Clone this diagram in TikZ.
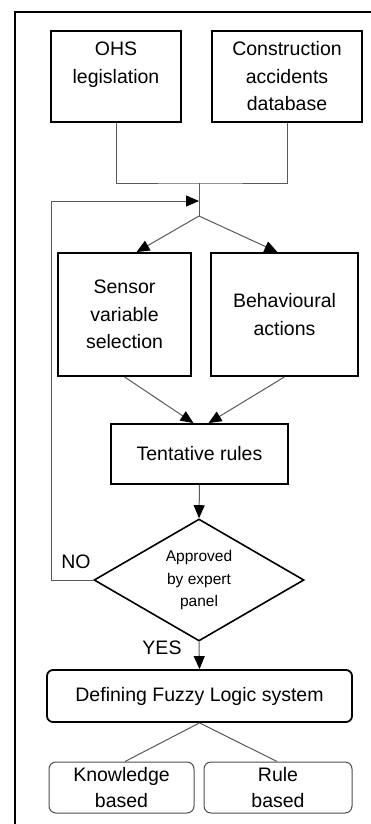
\documentclass[tikz,border=0pt]{standalone}
\usepackage{fontspec}
\setmainfont{Liberation Sans}
\usetikzlibrary{arrows.meta,shapes.geometric,calc}
\tikzset{
  box/.style={draw=black, line width=1.8pt, rectangle, inner sep=0pt, align=center,
              font=\fontsize{19.5}{27.5}\selectfont},
  rbox/.style={draw=black, line width=1.8pt, rectangle, rounded corners=6pt, inner sep=0pt,
              align=center, font=\fontsize{19.5}{27}\selectfont},
  sbox/.style={draw=black!70, line width=1pt, rectangle, rounded corners=7pt, inner sep=0pt,
              align=center, font=\fontsize{19.5}{26}\selectfont},
  decision/.style={draw=black, line width=1.6pt, diamond, inner sep=0pt, aspect=1.72,
              align=center, font=\fontsize{15.5}{22.5}\selectfont},
  conn/.style={draw=black!65, line width=1pt},
  arr/.style={conn, -{Triangle[length=13pt,width=11pt,color=black]}},
  lbl/.style={font=\fontsize{19.5}{22}\selectfont, inner sep=0pt}
}
\begin{document}
\begin{tikzpicture}[x=1pt,y=-1pt]
\useasboundingbox (0,0) rectangle (371,824);
\clip (0,0) rectangle (371,824);
\draw[line width=2.5pt] (15,12) rectangle (390,840);

\node[box, minimum width=130, minimum height=91] (ohs) at (116,76.5) {OHS\\legislation\\\mbox{}};
\node[box, minimum width=150, minimum height=91] (cad) at (287,76.5) {Construction\\accidents\\database};
\node[box, minimum width=133, minimum height=123] (sen) at (124.5,314.5) {Sensor\\variable\\selection};
\node[box, minimum width=147, minimum height=123] (beh) at (284.5,314.5) {Behavioural\\actions};
\node[box, minimum width=177, minimum height=60] (ten) at (199.5,454) {Tentative rules};
\node[decision, minimum width=210, minimum height=122] (dec) at (199,580) {Approved\\by expert\\panel};
\node[rbox, minimum width=305, minimum height=52] (fls) at (199.5,696) {Defining Fuzzy Logic system};
\node[sbox, minimum width=145, minimum height=51] (kb) at (121.5,787.5) {Knowledge\\based};
\node[sbox, minimum width=148, minimum height=51] (rb) at (278,787.5) {Rule\\based};

\coordinate (j1) at (199,183);
\coordinate (jf) at (199,201);
\coordinate (j2) at (199,216);
\coordinate (fb) at (51,201);

\draw[conn] (ohs.south) |- (j1) -| (cad.south);
\draw[conn] (j1) -- (j2);
\draw[arr] (j2) -- ([xshift=12pt]sen.north);
\draw[arr] (j2) -- ([xshift=-7pt]beh.north);
\draw[arr] (sen.south) -- ([xshift=-6pt]ten.north);
\draw[arr] (beh.south) -- ([xshift=9pt]ten.north);
\draw[arr] (ten.south) -- (dec.north);
\draw[arr] (dec.west) -| (fb) -- (jf);
\draw[arr] (dec.south) -- (fls.north);
\draw[conn] (fls.south) -- ([xshift=3.5pt]kb.north);
\draw[conn] (fls.south) -- ([xshift=-1pt]rb.north);

\node[lbl] (no) at (76,562) {NO};
\node[lbl] (yes) at (162,647.5) {YES};
\end{tikzpicture}
\end{document}
